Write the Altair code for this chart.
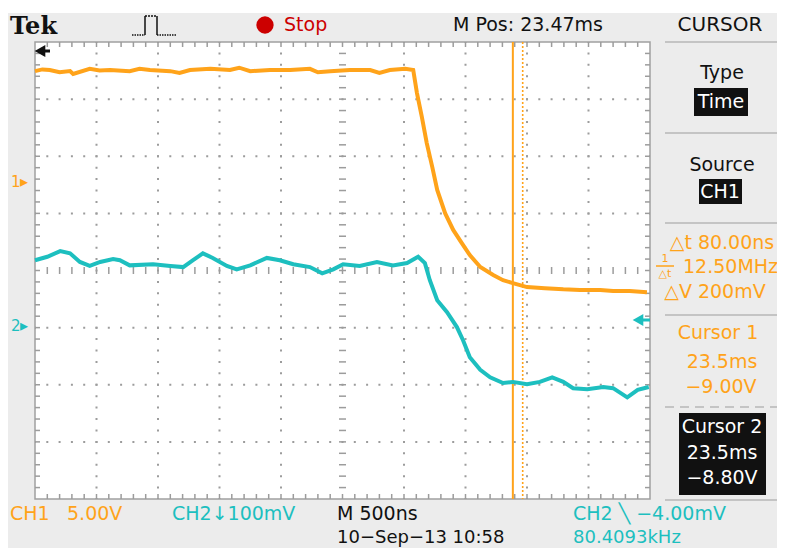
import altair as alt
import pandas as pd

# ---- data (screen divisions: x 0..10, y -4..4) ----
ch1_x = [0, 0.12, 0.24, 0.40, 0.57, 0.62, 0.89, 1.05, 1.22, 1.54, 1.70, 1.87, 2.20, 2.35, 2.52,
         2.85, 3.17, 3.32, 3.50, 3.82, 4.15, 4.47, 4.60, 4.80, 5.12, 5.45, 5.60, 5.77, 6.02, 6.15,
         6.21, 6.29, 6.37, 6.46, 6.54, 6.67, 6.80, 6.94, 7.07, 7.24, 7.45, 7.61, 7.77, 8.00, 8.29,
         8.59, 8.86, 9.19, 9.40, 9.67, 9.95]
ch1_y = [3.49, 3.52, 3.51, 3.47, 3.49, 3.44, 3.53, 3.50, 3.51, 3.49, 3.53, 3.51, 3.49, 3.46, 3.51,
         3.53, 3.51, 3.55, 3.49, 3.51, 3.51, 3.53, 3.47, 3.49, 3.51, 3.51, 3.46, 3.51, 3.53, 3.51,
         3.11, 2.69, 2.23, 1.81, 1.41, 1.00, 0.71, 0.48, 0.27, 0.06, -0.08, -0.17, -0.22, -0.29, -0.31,
         -0.33, -0.34, -0.34, -0.36, -0.36, -0.38]

ch2_x = [0, 0.20, 0.41, 0.57, 0.73, 0.89, 1.06, 1.27, 1.38, 1.54, 1.92, 2.20, 2.41, 2.57, 2.73,
         2.89, 3.12, 3.28, 3.50, 3.77, 3.98, 4.20, 4.47, 4.67, 4.85, 5.01, 5.28, 5.56, 5.82, 6.05,
         6.23, 6.34, 6.42, 6.54, 6.70, 6.86, 6.96, 7.07, 7.24, 7.40, 7.61, 7.77, 8.00, 8.21, 8.41,
         8.59, 8.75, 8.98, 9.24, 9.40, 9.63, 9.80, 9.98]
ch2_y = [0.18, 0.24, 0.34, 0.30, 0.15, 0.08, 0.15, 0.20, 0.18, 0.09, 0.11, 0.08, 0.06, 0.18, 0.30,
         0.22, 0.08, 0.02, 0.09, 0.22, 0.18, 0.11, 0.06, -0.05, 0.02, 0.11, 0.08, 0.15, 0.09, 0.13,
         0.24, 0.13, -0.17, -0.52, -0.73, -0.99, -1.22, -1.52, -1.74, -1.87, -1.97, -1.95, -1.99, -1.95, -1.87,
         -1.95, -2.06, -2.08, -2.04, -2.06, -2.22, -2.09, -2.04]

cursor1_x = [7.77]
cursor2_x = [7.93]

ORANGE = "#FFA31A"
CYAN = "#1DBFBF"
BLACK = "#111111"
GRID = "#9c9c9c"
SEP = "#c4c4c4"

X = alt.Scale(domain=[0, 10], range=[27, 642], nice=False, zero=False)
Y = alt.Scale(domain=[-4, 4], range=[491, 34], nice=False, zero=False)

one = pd.DataFrame({"a": [0]})
layers = []

# top white strip
layers.append(alt.Chart(one).mark_rect(color="white").encode(
    x=alt.value(0), x2=alt.value(769), y=alt.value(0), y2=alt.value(5)))

# plot frame
frame = pd.DataFrame({"x0": [0], "x1": [10], "y0": [-4], "y1": [4]})
layers.append(alt.Chart(frame).mark_rect(fill="white", stroke="#a0a0a0", strokeWidth=1.5).encode(
    x=alt.X("x0:Q", scale=X, axis=None), x2="x1",
    y=alt.Y("y0:Q", scale=Y, axis=None), y2="y1"))

# dotted graticule
gx = pd.DataFrame({"g": [1, 2, 3, 4, 6, 7, 8, 9]})
gy = pd.DataFrame({"g": [-3, -2, -1, 1, 2, 3]})
layers.append(alt.Chart(gx).mark_rule(color=GRID, strokeWidth=2, strokeDash=[2, 9.425], strokeDashOffset=1).encode(
    x=alt.X("g:Q", scale=X, axis=None), y=alt.value(34), y2=alt.value(491)))
layers.append(alt.Chart(gy).mark_rule(color=GRID, strokeWidth=2, strokeDash=[2, 10.3], strokeDashOffset=1).encode(
    y=alt.Y("g:Q", scale=Y, axis=None), x=alt.value(27), x2=alt.value(642)))

xm = pd.DataFrame({"m": [round(0.2 * i, 2) for i in range(1, 50)]})
ym = pd.DataFrame({"m": [round(-4 + 0.2 * i, 2) for i in range(1, 40)]})
# center-line ticks
layers.append(alt.Chart(xm).mark_rule(color=GRID, strokeWidth=1.5).encode(
    x=alt.X("m:Q", scale=X, axis=None), y=alt.value(259), y2=alt.value(266)))
layers.append(alt.Chart(ym).mark_rule(color=GRID, strokeWidth=1.5).encode(
    y=alt.Y("m:Q", scale=Y, axis=None), x=alt.value(331), x2=alt.value(338)))
# border ticks
layers.append(alt.Chart(xm).mark_rule(color=GRID, strokeWidth=1.5).encode(
    x=alt.X("m:Q", scale=X, axis=None), y=alt.value(34), y2=alt.value(39)))
layers.append(alt.Chart(xm).mark_rule(color=GRID, strokeWidth=1.5).encode(
    x=alt.X("m:Q", scale=X, axis=None), y=alt.value(486), y2=alt.value(491)))
layers.append(alt.Chart(ym).mark_rule(color=GRID, strokeWidth=1.5).encode(
    y=alt.Y("m:Q", scale=Y, axis=None), x=alt.value(27), x2=alt.value(32)))
layers.append(alt.Chart(ym).mark_rule(color=GRID, strokeWidth=1.5).encode(
    y=alt.Y("m:Q", scale=Y, axis=None), x=alt.value(637), x2=alt.value(642)))

# cursors
layers.append(alt.Chart(pd.DataFrame({"c": cursor1_x})).mark_rule(color=ORANGE, strokeWidth=2).encode(
    x=alt.X("c:Q", scale=X, axis=None), y=alt.value(34), y2=alt.value(491)))
layers.append(alt.Chart(pd.DataFrame({"c": cursor2_x})).mark_rule(color=ORANGE, strokeWidth=1.6, strokeDash=[2, 2]).encode(
    x=alt.X("c:Q", scale=X, axis=None), y=alt.value(34), y2=alt.value(491)))

# traces
layers.append(alt.Chart(pd.DataFrame({"t": ch2_x, "v": ch2_y})).mark_line(color=CYAN, strokeWidth=4).encode(
    x=alt.X("t:Q", scale=X, axis=None), y=alt.Y("v:Q", scale=Y, axis=None)))
layers.append(alt.Chart(pd.DataFrame({"t": ch1_x, "v": ch1_y})).mark_line(color=ORANGE, strokeWidth=4).encode(
    x=alt.X("t:Q", scale=X, axis=None), y=alt.Y("v:Q", scale=Y, axis=None)))


def txt(s, x, y, color=BLACK, size=19, align="center", font="DejaVu Sans", weight="normal"):
    return alt.Chart(one).mark_text(text=s, color=color, fontSize=size, align=align, baseline="middle",
                                    font=font, fontWeight=weight).encode(x=alt.value(x), y=alt.value(y))


def box(x1, x2, y1, y2, color):
    return alt.Chart(one).mark_rect(color=color).encode(
        x=alt.value(x1), x2=alt.value(x2), y=alt.value(y1), y2=alt.value(y2))


def hline(x1, x2, y, color=SEP, w=2, dash=None):
    kw = dict(color=color, strokeWidth=w)
    if dash:
        kw["strokeDash"] = dash
    return alt.Chart(one).mark_rule(**kw).encode(x=alt.value(x1), x2=alt.value(x2), y=alt.value(y))


def vline(x, y1, y2, color=BLACK, w=1.5):
    return alt.Chart(one).mark_rule(color=color, strokeWidth=w).encode(
        x=alt.value(x), y=alt.value(y1), y2=alt.value(y2))


def arrow_left(x_tip, x_end, y, color):
    head = alt.Chart(one).mark_point(shape="triangle-left", filled=True, size=150, color=color, opacity=1).encode(
        x=alt.value(x_tip + 5), y=alt.value(y))
    shaft = hline(x_tip + 5, x_end, y, color, 3)
    return [head, shaft]


# markers on the graticule
layers += arrow_left(27, 42, 43, BLACK)
layers += arrow_left(625, 642, 312, CYAN)
layers.append(txt("1", 3, 174, ORANGE, 15, align="left"))
layers.append(txt("▸", 12, 174, ORANGE, 16, align="left"))
layers.append(txt("2", 3, 318, CYAN, 15, align="left"))
layers.append(txt("▸", 12, 318, CYAN, 16, align="left"))

# top bar
layers.append(txt("Tek", 2, 19, BLACK, 24, align="left", font="DejaVu Serif", weight="bold"))
layers.append(hline(124, 137, 27, BLACK, 1.5, [1.5, 1]))
layers.append(vline(137, 8, 27))
layers.append(hline(137, 149, 8, BLACK, 1.5, [2, 1]))
layers.append(vline(149, 8, 27))
layers.append(hline(149, 169, 27, BLACK, 1.5, [1.5, 1]))
layers.append(alt.Chart(one).mark_point(filled=True, shape="circle", size=300, color="#cc0000", opacity=1).encode(
    x=alt.value(257), y=alt.value(17)))
layers.append(txt("Stop", 276, 17, "#cc0000", 19, align="left"))
layers.append(txt("M Pos: 23.47ms", 520, 17, BLACK, 19))

# right panel
layers.append(txt("CURSOR", 712, 17, BLACK, 20))
layers.append(hline(657, 769, 34))
layers.append(txt("Type", 714, 65))
layers.append(box(686, 740, 80, 108, BLACK))
layers.append(txt("Time", 713, 94, "white"))
layers.append(hline(657, 769, 125))
layers.append(txt("Source", 714, 157))
layers.append(box(691, 734, 171, 196, BLACK))
layers.append(txt("CH1", 712, 184, "white"))
layers.append(hline(657, 769, 215))
layers.append(txt("△t 80.00ns", 714, 235, ORANGE))
layers.append(txt("1", 657, 251, ORANGE, 11))
layers.append(hline(648, 666, 258, ORANGE, 1.5))
layers.append(txt("△t", 657, 266, ORANGE, 11))
layers.append(txt("12.50MHz", 675, 259, ORANGE, 19, align="left"))
layers.append(txt("△V 200mV", 707, 284, ORANGE))
layers.append(hline(657, 769, 307))
layers.append(txt("Cursor 1", 710, 325, ORANGE))
layers.append(txt("23.5ms", 714, 354, ORANGE))
layers.append(txt("−9.00V", 713, 379, ORANGE))
layers.append(hline(657, 769, 399, SEP, 2, [9, 6]))
layers.append(box(671, 758, 405, 487, BLACK))
layers.append(txt("Cursor 2", 714, 419, "white"))
layers.append(txt("23.5ms", 714, 445, "white"))
layers.append(txt("−8.80V", 714, 470, "white"))
layers.append(hline(657, 769, 492))

# bottom status lines
layers.append(txt("CH1", 2, 506, ORANGE, align="left"))
layers.append(txt("5.00V", 59, 506, ORANGE, align="left"))
layers.append(txt("CH2↓100mV", 164, 506, CYAN, align="left"))
layers.append(txt("M 500ns", 329, 506, BLACK, align="left"))
layers.append(txt("CH2 ╲ −4.00mV", 565, 506, CYAN, align="left"))
layers.append(txt("10−Sep−13 10:58", 329, 530, BLACK, 18, align="left"))
layers.append(txt("80.4093kHz", 565, 530, CYAN, 18, align="left"))

chart = alt.layer(*layers).properties(
    width=769, height=540,
    autosize=alt.AutoSizeParams(type="none"),
    padding=0,
    background="#ececec",
).configure_view(stroke=None, fill="#ececec")

chart.save("out.html", embed_options={"renderer": "svg", "actions": False})
